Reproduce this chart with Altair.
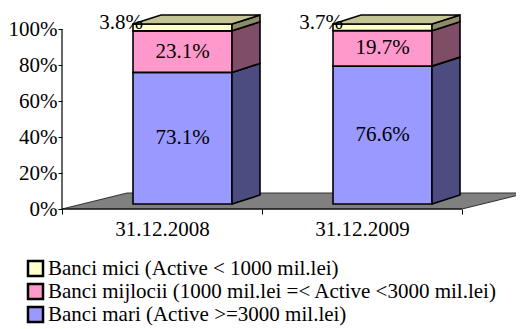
import json
import altair as alt
import pandas as pd

# ---------------- data ----------------
categories = ["31.12.2008", "31.12.2009"]
series = [
    "Banci mici (Active < 1000 mil.lei)",
    "Banci mijlocii (1000 mil.lei =< Active <3000 mil.lei)",
    "Banci mari (Active >=3000 mil.lei)",
]
mici = [3.8, 3.7]
mijlocii = [23.1, 19.7]
mari = [73.1, 76.6]
y_ticks = [0, 20, 40, 60, 80, 100]

# ---------------- style ----------------
front_colors = ["#FFFFCC", "#FF99CC", "#9999FF"]
side_colors = ["#8C8C6A", "#804D66", "#4C4C80"]
top_color = "#C4C494"
FONT = "Liberation Serif"
FS = 21

# geometry of the pseudo-3D projection (in scale units)
BAR_L, BAR_R = 0.355, 0.85          # bar front face within a category band
DX, DY = 0.14, 5.0                  # bar depth offset
BASE = 5 / 1.8                      # bars stand mid-floor
FDX, FDY = 0.325, 16 / 1.8          # floor depth
X_MAX = 454 / 200
Y_MAX = 199 / 1.8

values = {series[0]: mici, series[1]: mijlocii, series[2]: mari}
stack_order = [series[2], series[1], series[0]]  # bottom -> top

fronts, sides, tops, labels = [], [], [], []
for i, cat in enumerate(categories):
    x0, x1 = i + BAR_L, i + BAR_R
    cum = BASE
    for s in stack_order:
        v = values[s][i]
        y0, y1 = cum, cum + v
        k = series.index(s)
        fronts.append(dict(x=x0, x2=x1, y=y0, y2=y1, series=s))
        sid = f"{i}-{k}"
        sides.append(dict(id=sid, x=x1, y=y0, y2=y1, fill=side_colors[k]))
        sides.append(dict(id=sid, x=x1 + DX, y=y0 + DY, y2=y1 + DY, fill=side_colors[k]))
        if k == 0:
            labels.append(dict(x=x0 - 0.06, y=y1 + 0.5, label=f"{v:.1f}%"))
        else:
            labels.append(dict(x=(x0 + x1) / 2, y=(y0 + y1) / 2, label=f"{v:.1f}%"))
        cum = y1
    T = cum
    tid = f"top{i}"
    for xx, ylo, yhi in [(x0, T, T), (x0 + DX, T, T + DY), (x1, T, T + DY), (x1 + DX, T + DY, T + DY)]:
        tops.append(dict(id=tid, x=xx, y=ylo, y2=yhi))

floor = pd.DataFrame([
    dict(x=0, y=0, y2=0),
    dict(x=FDX, y=0, y2=FDY),
    dict(x=len(categories), y=0, y2=FDY),
    dict(x=len(categories) + FDX, y=FDY, y2=FDY),
])
front_edge = pd.DataFrame([dict(x=0, x2=len(categories), y=0)])
y_line = pd.DataFrame([dict(x=0, y=0, y2=100)])

# ---------------- scales / axes ----------------
xscale = alt.Scale(domain=[0, X_MAX], nice=False, zero=False)
yscale = alt.Scale(domain=[0, Y_MAX], nice=False, zero=False)
xaxis = alt.Axis(
    values=list(range(len(categories) + 1)),
    labelExpr=f"{json.dumps(categories + [''])}[datum.value]",
    labelOffset=100, tickSize=5, tickColor="black", tickWidth=1,
    domain=False, grid=False, labelOverlap=False, labelFlush=False,
    labelBound=False, title=None, labelFont=FONT, labelFontSize=FS,
    labelColor="black", labelPadding=4,
)
yaxis = alt.Axis(
    values=y_ticks, labelExpr="datum.value + '%'", domain=False, grid=False,
    tickSize=4, tickColor="black", tickWidth=1, title=None, labelFont=FONT,
    labelFontSize=FS, labelColor="black", labelPadding=1, labelOverlap=False,
    labelFlush=False, labelBound=False,
)


def X(f="x"):
    return alt.X(f"{f}:Q", scale=xscale, axis=xaxis)


def Y(f="y"):
    return alt.Y(f"{f}:Q", scale=yscale, axis=yaxis)


floor_layer = alt.Chart(floor).mark_area(
    orient="vertical", fill="#808080", stroke="#303030", strokeWidth=1
).encode(x=X(), y=Y(), y2="y2:Q")

edge_layer = alt.Chart(front_edge).mark_rule(color="black", strokeWidth=1.2).encode(
    x=X(), x2="x2:Q", y=Y()
)

yline_layer = alt.Chart(y_line).mark_rule(color="black", strokeWidth=1.2).encode(
    x=X(), y=Y(), y2="y2:Q"
)

front_layer = alt.Chart(pd.DataFrame(fronts)).mark_rect(
    stroke="black", strokeWidth=1.6
).encode(
    x=X(), x2="x2:Q", y=Y(), y2="y2:Q",
    color=alt.Color(
        "series:N",
        scale=alt.Scale(domain=series, range=front_colors),
        legend=alt.Legend(
            title=None, orient="none", legendX=-37, legendY=248,
            symbolType="square", symbolSize=225, symbolStrokeColor="black",
            symbolStrokeWidth=2.5, symbolOpacity=1, labelFont=FONT,
            labelFontSize=FS, labelColor="black", rowPadding=-3, padding=0,
            labelLimit=800, labelOffset=2,
        ),
    ),
)

side_layer = alt.Chart(pd.DataFrame(sides)).mark_area(
    orient="vertical", stroke="black", strokeWidth=1.6, opacity=1
).encode(
    x=X(), y=Y(), y2="y2:Q", detail="id:N",
    fill=alt.Fill("fill:N", scale=None),
)

top_layer = alt.Chart(pd.DataFrame(tops)).mark_area(
    orient="vertical", fill=top_color, stroke="black", strokeWidth=1.6, opacity=1
).encode(x=X(), y=Y(), y2="y2:Q", detail="id:N")

text_layer = alt.Chart(pd.DataFrame(labels)).mark_text(
    font=FONT, fontSize=FS, color="black", align="center", baseline="middle"
).encode(x=X(), y=Y(), text="label:N")

chart = alt.layer(
    floor_layer, edge_layer, yline_layer, front_layer, side_layer, top_layer, text_layer
).properties(
    width=454, height=199,
    autosize=alt.AutoSizeParams(type="none"),
    padding={"left": 54, "top": 2, "right": 0, "bottom": 119},
).configure_view(stroke=None)

chart.save("out.html", embed_options={"renderer": "svg", "actions": False})
